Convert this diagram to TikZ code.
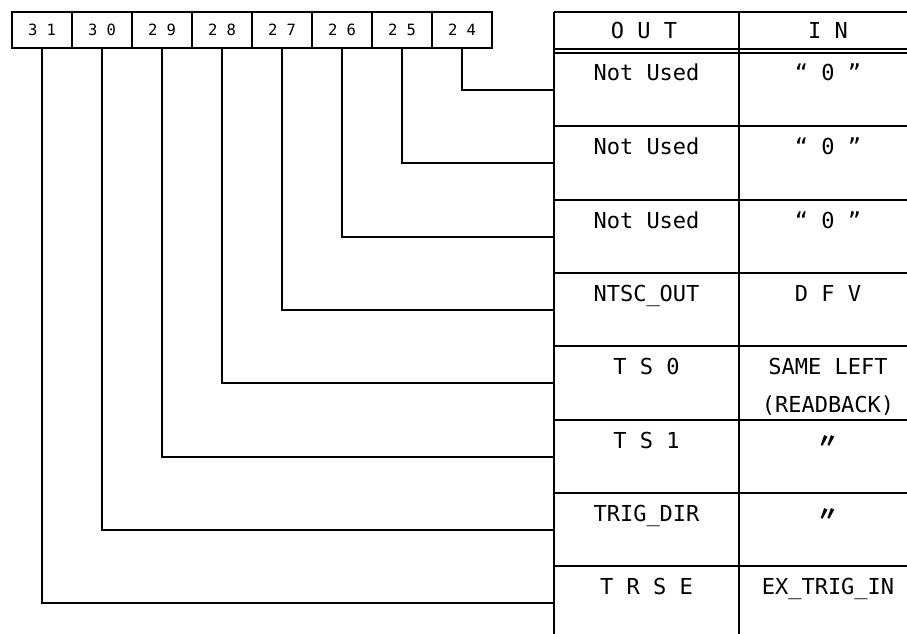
\documentclass[tikz,border=0pt]{standalone}
\usepackage{fontspec}
\setmonofont{DejaVu Sans Mono}
\newfontfamily\cjk{Noto Sans CJK JP}
\usetikzlibrary{positioning}
\tikzset{
  every picture/.style={line width=2pt},
  bitbox/.style={draw, minimum width=60pt, minimum height=36pt, inner sep=0pt, font=\ttfamily\fontsize{15.5}{18}\selectfont},
  cell/.style={minimum width=#1, minimum height=74pt, inner sep=0pt},
  cell/.default=185pt,
  ctext/.style={font=\ttfamily\fontsize{22}{38}\selectfont, anchor=base, inner sep=0pt},
  wire/.style={draw=black, line width=2pt},
}
\newcommand{\dittomark}{{\cjk\bfseries\fontsize{21}{26}\selectfont 〃}}

\begin{document}
\begin{tikzpicture}[x=1pt, y=-1pt]
  \useasboundingbox (0,0) rectangle (907,634);
  % ---- bit boxes
  \foreach \b/\t [count=\i from 0] in {31/3 1, 30/3 0, 29/2 9, 28/2 8, 27/2 7, 26/2 6, 25/2 5, 24/2 4}
    \node[bitbox] (b\b) at ({42+60*\i},30) {\t};
  % ---- table head
  \node[ctext] (hout) at (644,39) {O U T};
  \node[ctext] (hin) at (828,39) {I N};
  \draw (554,12) -- (907,12);
  \draw (554,49.5) -- (907,49.5);
  \draw (554,53) -- (907,53);
  \draw (554,12) -- (554,634);
  \draw (739,12) -- (739,634);
  % ---- table rows
  \foreach \r/\y/\o/\n in {1/53/Not Used/“ 0 ”, 2/126/Not Used/“ 0 ”, 3/200/Not Used/“ 0 ”,
      4/273/NTSC\_OUT/D F V, 5/346/T S 0/{\begin{tabular}[t]{@{}c@{}}SAME LEFT\\(READBACK)\end{tabular}},
      6/420/T S 1/\dittomark, 7/493/TRIG\_DIR/\dittomark, 8/566/T R S E/EX\_TRIG\_IN} {
    \node[cell] (o\r) at (646.5,\y+37) {};
    \node[cell=178pt] (n\r) at (828,\y+37) {};
    \node[ctext] (ot\r) at ([yshift=-29pt]o\r.north) {\o};
    \node[ctext] (nt\r) at ([yshift=-29pt]n\r.north) {\n};
  }
  \foreach \y in {126,200,273,346,420,493,566}
    \draw (554,\y) -- (907,\y);
  % ---- bits to rows
  \foreach \b/\r in {24/1, 25/2, 26/3, 27/4, 28/5, 29/6, 30/7, 31/8}
    \draw[wire] (b\b.south) |- (o\r.west);
\end{tikzpicture}
\end{document}
